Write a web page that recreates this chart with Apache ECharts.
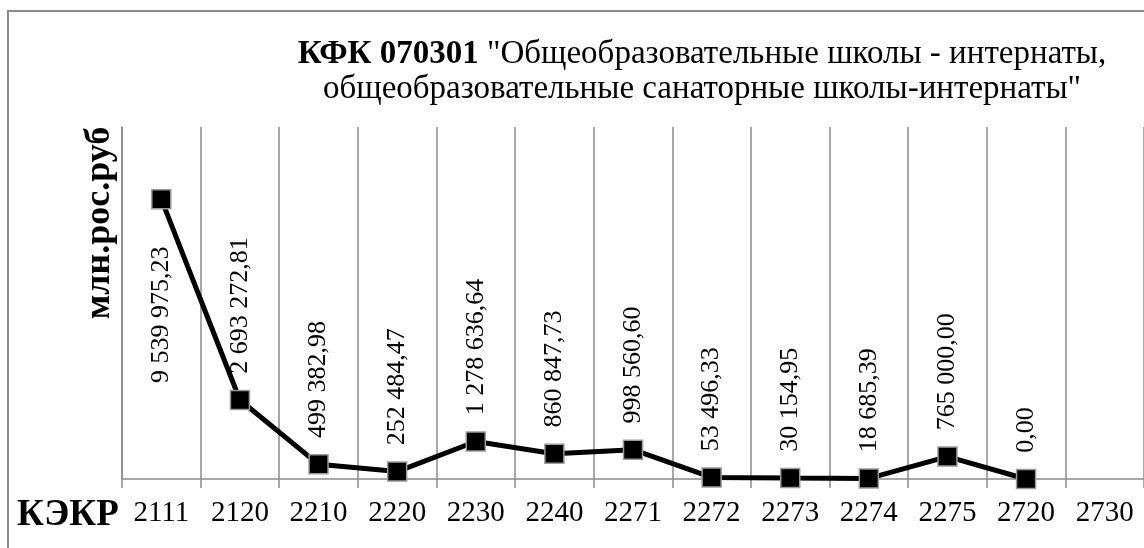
<!DOCTYPE html>
<html>
<head>
<meta charset="utf-8">
<script src="https://cdn.jsdelivr.net/npm/echarts@6/dist/echarts.min.js"></script>
<style>
  html, body { margin: 0; padding: 0; background: #fff; }
  #chart { width: 1144px; height: 548px; }
</style>
</head>
<body>
<div id="chart"></div>
<script>
 var myChart = echarts.init(document.getElementById('chart'));

 // КЭКР коды и суммы
 var kekrCodes = ['2111', '2120', '2210', '2220', '2230', '2240', '2271', '2272', '2273', '2274', '2275', '2720', '2730'];
 var amounts = [9539975.23, 2693272.81, 499382.98, 252484.47, 1278636.64, 860847.73, 998560.60, 53496.33, 30154.95, 18685.39, 765000.00, 0.00];
 var titleBold = 'КФК 070301';
 var titleRest = ' "Общеобразовательные школы - интернаты,';
 var titleLine2 = 'общеобразовательные санаторные школы-интернаты"';
 var yName = 'млн.рос.руб';
 var xName = 'КЭКР';

 var serif = "'Liberation Serif', 'Times New Roman', serif";
 var gray = '#8a8a8a';

 function fmt(v) {
	 var parts = v.toFixed(2).split('.');
	 return parts[0].replace(/\B(?=(\d{3})+(?!\d))/g, ' ') + ',' + parts[1];
 }

 var seriesData = amounts.map(function (v, i) {
	 if (i === 0) {
		 // первая подпись смещена вниз, как в исходнике
		 return { value: v, label: { position: 'bottom', align: 'right', distance: 37 } };
	 }
	 return v;
 });

 var option = {
	 animation: false,
	 title: {
		 text: '{b|' + titleBold + '}' + titleRest + '\n' + titleLine2,
		 left: 697,
		 top: 32,
		 textAlign: 'center',
		 textStyle: {
			 fontFamily: serif,
			 fontSize: 33,
			 fontWeight: 'normal',
			 color: '#000',
			 lineHeight: 35,
			 rich: {
				 b: { fontFamily: serif, fontSize: 33, fontWeight: 'bold', color: '#000', lineHeight: 35 }
			 }
		 }
	 },
	 graphic: [
		 {
			 type: 'rect',
			 shape: { x: 8, y: 11, width: 1300, height: 700 },
			 style: { fill: 'none', stroke: gray, lineWidth: 2 },
			 silent: true
		 },
		 {
			 type: 'text',
			 x: 100,
			 y: 223,
			 rotation: Math.PI / 2,
			 style: {
				 text: yName,
				 font: 'bold 36px ' + serif,
				 fill: '#000',
				 textAlign: 'center',
				 textVerticalAlign: 'middle'
			 }
		 },
		 {
			 type: 'text',
			 x: 17,
			 y: 515,
			 style: {
				 text: xName,
				 font: 'bold 37px ' + serif,
				 fill: '#000',
				 textAlign: 'left',
				 textVerticalAlign: 'middle'
			 }
		 }
	 ],
	 grid: { left: 122, right: -7, top: 127, bottom: 69 },
	 xAxis: {
		 type: 'category',
		 data: kekrCodes,
		 boundaryGap: true,
		 axisLine: { lineStyle: { color: gray, width: 1.5 } },
		 axisTick: { show: true, length: 9, lineStyle: { color: gray, width: 1.5 } },
		 splitLine: { show: true, lineStyle: { color: gray, width: 1.5 } },
		 axisLabel: { fontFamily: serif, fontSize: 29, color: '#000', margin: 20 }
	 },
	 yAxis: {
		 type: 'value',
		 min: 0,
		 max: 12000000,
		 axisLine: { show: true, lineStyle: { color: gray, width: 1.5 } },
		 axisTick: { show: false },
		 axisLabel: { show: false },
		 splitLine: { show: false }
	 },
	 series: [{
		 type: 'line',
		 data: seriesData,
		 symbol: 'rect',
		 symbolSize: 19,
		 itemStyle: { color: '#000', borderColor: '#9a9a9a', borderWidth: 1.5 },
		 lineStyle: { color: '#000', width: 5 },
		 label: {
			 show: true,
			 position: 'top',
			 rotate: 90,
			 align: 'left',
			 verticalAlign: 'middle',
			 distance: 16,
			 fontFamily: serif,
			 fontSize: 26,
			 color: '#000',
			 formatter: function (p) { return fmt(p.value); }
		 }
	 }]
 };

 myChart.setOption(option);
</script>
</body>
</html>
